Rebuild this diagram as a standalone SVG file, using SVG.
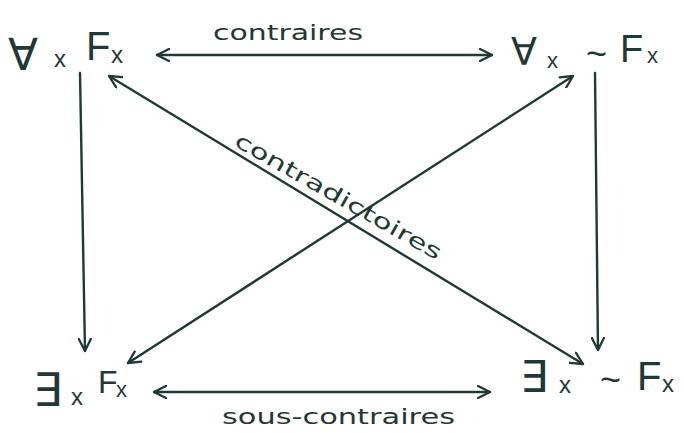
<svg xmlns="http://www.w3.org/2000/svg" width="684" height="433" viewBox="0 0 684 433">
<defs>
<style>
.ink{fill:#1f3936;font-family:"Liberation Sans","DejaVu Sans",sans-serif;}
.q{font-family:"DejaVu Sans","Liberation Sans",sans-serif;}
.lbl{fill:#1f3936;font-family:"DejaVu Sans","Liberation Sans",sans-serif;font-size:21px;}
.ln{stroke:#1f3936;stroke-width:2.4;fill:none;stroke-linecap:round;marker-end:url(#ah);}
.dbl{marker-start:url(#ah);}
</style>
<marker id="ah" viewBox="0 0 14 14" refX="13" refY="7" markerWidth="14" markerHeight="14" markerUnits="userSpaceOnUse" orient="auto-start-reverse">
<path d="M1,1 L13,7 L1,13" fill="none" stroke="#1f3936" stroke-width="2.3" stroke-linecap="round" stroke-linejoin="round"/>
</marker>
</defs>
<rect width="684" height="433" fill="#ffffff"/>
<g id="connectors">
<line class="ln dbl" x1="157" y1="55" x2="492" y2="55"/>
<line class="ln dbl" x1="154" y1="392" x2="490" y2="392"/>
<line class="ln" x1="80" y1="73" x2="85" y2="351"/>
<line class="ln" x1="595" y1="73" x2="598" y2="350"/>
<line class="ln dbl" x1="109" y1="76" x2="583" y2="364"/>
<line class="ln dbl" x1="128" y1="363" x2="573" y2="76"/>
<text class="lbl" x="213" y="40" textLength="150" lengthAdjust="spacingAndGlyphs">contraires</text>
<text class="lbl" x="222" y="424" textLength="233" lengthAdjust="spacingAndGlyphs">sous-contraires</text>
<text class="lbl" transform="translate(233,145) rotate(29.5)" x="0" y="0" textLength="234" lengthAdjust="spacingAndGlyphs">contradictoires</text>
</g>
<g id="node-A">
<text class="ink q" x="8" y="70" font-size="44">∀</text>
<text class="ink" x="54" y="67" font-size="24">x</text>
<text class="ink" x="86" y="60" font-size="40">F</text>
<text class="ink" x="111" y="63" font-size="24">x</text>
</g>
<g id="node-E">
<text class="ink q" x="511" y="65" font-size="38">∀</text>
<text class="ink" x="547" y="68" font-size="22">x</text>
<text class="ink" x="586" y="66" font-size="36">~</text>
<text class="ink" x="620" y="62" font-size="38">F</text>
<text class="ink" x="647" y="63" font-size="22">x</text>
</g>
<g id="node-I">
<text class="ink q" x="33" y="406" font-size="46">∃</text>
<text class="ink" x="71" y="405" font-size="24">x</text>
<text class="ink" x="98" y="393" font-size="32">F</text>
<text class="ink" x="116" y="397" font-size="22">x</text>
</g>
<g id="node-O">
<text class="ink q" x="520" y="392" font-size="44">∃</text>
<text class="ink" x="559" y="393" font-size="24">x</text>
<text class="ink" x="600" y="392" font-size="36">~</text>
<text class="ink" x="637" y="390" font-size="40">F</text>
<text class="ink" x="662" y="392" font-size="24">x</text>
</g>
</svg>
